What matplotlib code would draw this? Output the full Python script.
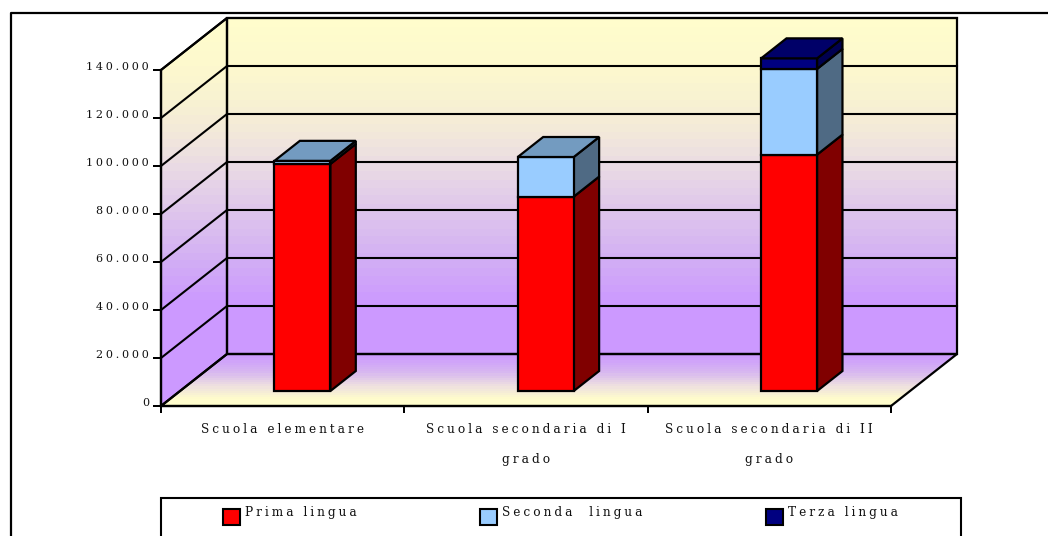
import numpy as np
import matplotlib
matplotlib.use("Agg")
import matplotlib.pyplot as plt
from matplotlib.patches import Polygon, Patch, Rectangle
from matplotlib.colors import LinearSegmentedColormap
from matplotlib.ticker import FuncFormatter
from matplotlib.transforms import Affine2D

# ---- data ----
categories = ["Scuola elementare", "Scuola secondaria di I\ngrado", "Scuola secondaria di II\ngrado"]
prima = [94600, 81000, 98500]
seconda = [1300, 16500, 35700]
terza = [0, 0, 4400]
series_names = ["Prima lingua", "Seconda  lingua", "Terza lingua"]
yticks = [0, 20000, 40000, 60000, 80000, 100000, 120000, 140000]

# ---- style ----
W, H = 1048, 536
FRONT = ["#FF0000", "#99CCFF", "#000080"]
SIDE = ["#800000", "#4F6A84", "#000050"]
TOP = ["#800000", "#739BC0", "#000068"]
SP = "\u2005"
FONT = ["DejaVu Serif"]
FS = 8.7
FSY = 8.0
INK = "#111111"

def spaced(s):
    return "\n".join(SP.join(line) for line in s.split("\n"))

fig = plt.figure(figsize=(W / 100, H / 100), dpi=100)
fig.patch.set_facecolor("white")
ax = fig.add_axes([161 / W, 1 - 406 / H, 730 / W, 336 / H])
ax.set_xlim(0, 3)
ax.set_ylim(0, 140000)
ax.patch.set_visible(False)

# oblique projection in data units: depth d in [0, 1] moves 66 px right and 52 px up
DX = 66 / (730 / 3)
DY = 52 / (336 / 140000)
def P(x, v, d):
    return (x + d * DX, v + d * DY)

TOPV = yticks[-1]
wall_back = [P(0, 0, 1), P(3, 0, 1), P(3, TOPV, 1), P(0, TOPV, 1)]
wall_left = [P(0, 0, 0), P(0, 0, 1), P(0, TOPV, 1), P(0, TOPV, 0)]
floor = [P(0, 0, 0), P(3, 0, 0), P(3, 0, 1), P(0, 0, 1)]

wall_cmap = LinearSegmentedColormap.from_list("wall", [
    (0.00, "#FFFDCC"), (0.11, "#FDF9CE"), (0.21, "#F8F2D2"), (0.29, "#F3E9DA"), (0.38, "#EADBE4"),
    (0.47, "#E1CBEA"), (0.62, "#D3B0F4"), (0.74, "#CC99FF"), (1.00, "#CC99FF")], N=48)
floor_cmap = LinearSegmentedColormap.from_list("floor", [
    (0.00, "#CC99FF"), (0.35, "#D8B8F0"), (0.62, "#EEE0E0"), (0.88, "#FFFCCC"), (1.00, "#FFFFCC")], N=24)

def gradient(poly, cmap, vmin, vmax):
    xs = [p[0] for p in poly]
    im = ax.imshow(np.linspace(0, 1, 256).reshape(-1, 1), cmap=cmap, aspect="auto",
                   extent=(min(xs), max(xs), vmin, vmax), origin="upper", zorder=1,
                   interpolation="nearest")
    patch = Polygon(poly, closed=True, transform=ax.transData)
    im.set_clip_box(fig.bbox)
    im.set_clip_path(patch)

gradient(wall_back, wall_cmap, 0, TOPV + DY)
gradient(wall_left, wall_cmap, 0, TOPV + DY)
gradient(floor, floor_cmap, 0, DY)
ax.set_xlim(0, 3)
ax.set_ylim(0, 140000)

LW = 1.6
def face(pts, fc="none", z=2, lw=LW):
    ax.add_patch(Polygon(pts, closed=True, facecolor=fc, edgecolor="black", lw=lw,
                         zorder=z, clip_on=False, joinstyle="miter"))

face(wall_back)
face(wall_left)
face(floor)
for v in yticks[1:]:
    ax.plot(*zip(P(0, v, 0), P(0, v, 1), P(3, v, 1)), color="black", lw=1.5, zorder=2, clip_on=False)

# ---- stacked 3D bars ----
BW = 0.23
D0, D1 = 15 / 52, 35 / 52
for i in range(len(categories)):
    x0, x1 = i + 0.5 - BW / 2 + 0.003, i + 0.5 + BW / 2 + 0.003
    base = 0
    stack = [prima[i], seconda[i], terza[i]]
    top_k = max(k for k, val in enumerate(stack) if val > 0)
    for k, val in enumerate(stack):
        if val <= 0:
            continue
        v0, v1 = base, base + val
        face([P(x1, v0, D0), P(x1, v0, D1), P(x1, v1, D1), P(x1, v1, D0)], SIDE[k], 3)
        face([P(x0, v0, D0), P(x1, v0, D0), P(x1, v1, D0), P(x0, v1, D0)], FRONT[k], 4)
        if k == top_k:
            face([P(x0, v1, D0), P(x1, v1, D0), P(x1, v1, D1), P(x0, v1, D1)], TOP[k], 4)
        base = v1

# ---- axes ----
for s in ("top", "right"):
    ax.spines[s].set_visible(False)
for s in ("left", "bottom"):
    ax.spines[s].set_linewidth(LW)
ax.set_yticks(yticks)
ax.yaxis.set_major_formatter(FuncFormatter(lambda v, _: spaced(f"{int(v):,}".replace(",", "."))))
ax.tick_params(axis="y", length=5.5, width=LW * 0.9, pad=3)
ax.set_xticks([0, 1, 2, 3])
ax.set_xticklabels([])
ax.tick_params(axis="x", which="major", length=5, width=LW * 0.9)
ax.set_xticks([0.5, 1.5, 2.5], minor=True)
ax.set_xticklabels([spaced(c) for c in categories], minor=True, fontfamily=FONT, fontsize=FS,
                   color=INK, linespacing=2.78, ha="center", va="top")
ax.tick_params(axis="x", which="minor", length=0, pad=12)
for t in ax.get_yticklabels():
    t.set_fontfamily(FONT)
    t.set_fontsize(FSY)
    t.set_color(INK)
    t.set_transform(t.get_transform() + Affine2D().translate(0, 4))

# ---- outer frame and legend box ----
fig.add_artist(plt.Line2D([10.5 / W, 10.5 / W, 1], [0, 1 - 12.5 / H, 1 - 12.5 / H], color="black", lw=1.6))
fig.add_artist(Rectangle((161 / W, -5 / H), 800 / W, 5 / H + 1 - 498 / H, transform=fig.transFigure,
                         facecolor="white", edgecolor="black", lw=1.5))

handles = [Patch(facecolor=FRONT[k], edgecolor="black", lw=1.5) for k in range(3)]
leg = fig.legend(handles, [spaced(n) for n in series_names], ncol=3, frameon=False,
                 loc="upper left", bbox_to_anchor=(223 / W, 1 - 511 / H), bbox_transform=fig.transFigure,
                 borderaxespad=0, borderpad=0, columnspacing=10.25, handlelength=1.4, handleheight=1.4,
                 handletextpad=0.4, prop={"family": FONT, "size": FS})
for t in leg.get_texts():
    t.set_color(INK)
    t.set_y(5.5)
for h in leg.legend_handles:
    h.set_height(h.get_height() * 1.12)

fig.savefig("out.png", dpi=100, facecolor="white")
